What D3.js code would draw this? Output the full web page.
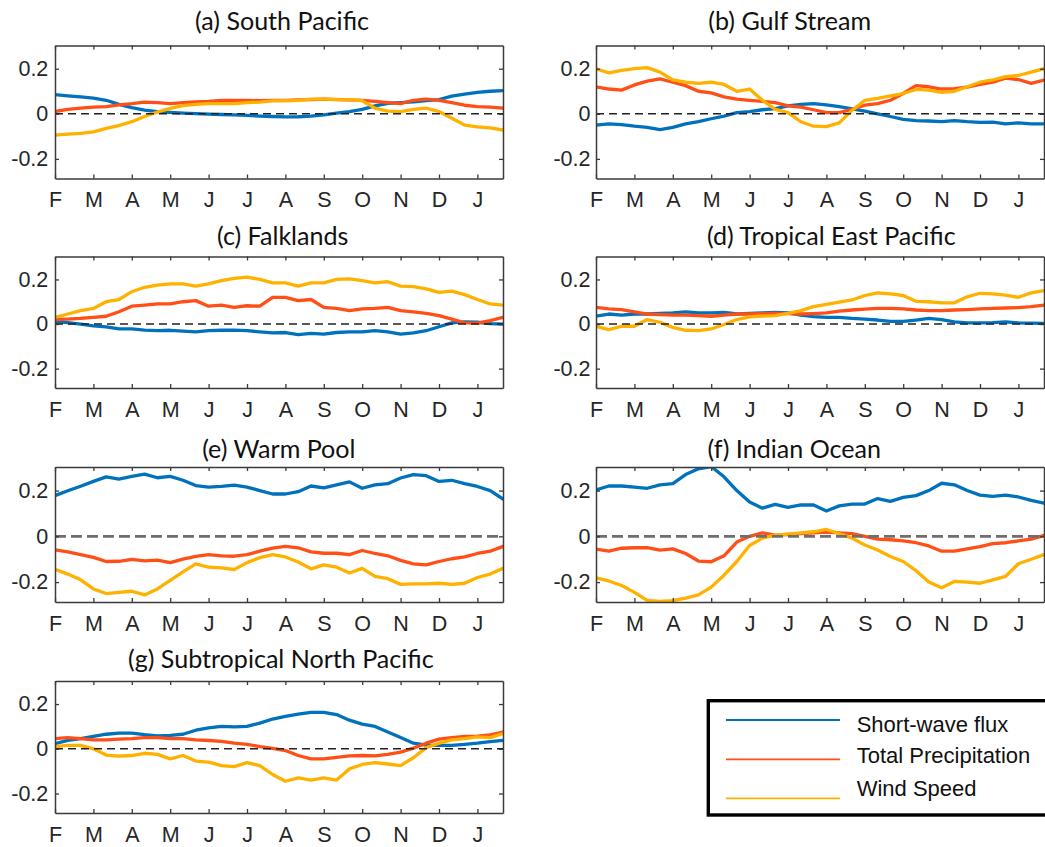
<!DOCTYPE html>
<html>
<head>
<meta charset="utf-8">
<script src="https://cdn.jsdelivr.net/npm/d3@7"></script>
<style>
  body { margin: 0; background: #fff; }
  svg { display: block; }
</style>
</head>
<body>
<svg id="chart" width="1045" height="847"></svg>
<script>
// ---------------- DATA ----------------
const monthLabels = ["F","M","A","M","J","J","A","S","O","N","D","J"];
const yTickValues = [-0.2, 0, 0.2];
const yTickLabels = ["-0.2", "0", "0.2"];
const sampleStep = 1 / 3;   // samples every third of a month, starting at F
const seriesNames = ["Short-wave flux", "Total Precipitation", "Wind Speed"];
const panelTitles = ["(a) South Pacific", "(b) Gulf Stream", "(c) Falklands",
  "(d) Tropical East Pacific", "(e) Warm Pool", "(f) Indian Ocean",
  "(g) Subtropical North Pacific"];

// (a) South Pacific
const swA = [0.085,0.08,0.075,0.07,0.06,0.042,0.027,0.016,0.01,0.006,0.003,0.001,-0.001,-0.003,-0.005,-0.007,-0.01,-0.012,-0.014,-0.013,-0.01,-0.005,0.003,0.01,0.02,0.035,0.046,0.05,0.053,0.058,0.063,0.078,0.087,0.095,0.1,0.103];
const tpA = [0.01,0.02,0.025,0.03,0.032,0.04,0.045,0.052,0.05,0.045,0.05,0.053,0.055,0.06,0.06,0.06,0.058,0.06,0.06,0.062,0.063,0.065,0.063,0.062,0.06,0.055,0.05,0.045,0.06,0.065,0.06,0.05,0.038,0.032,0.03,0.025];
const wsA = [-0.095,-0.09,-0.087,-0.08,-0.065,-0.052,-0.035,-0.012,0.008,0.024,0.036,0.042,0.045,0.045,0.045,0.05,0.052,0.057,0.058,0.06,0.065,0.065,0.064,0.062,0.058,0.025,0.012,0.01,0.02,0.025,0.01,-0.02,-0.05,-0.058,-0.062,-0.072];
// (b) Gulf Stream
const swB = [-0.05,-0.045,-0.048,-0.055,-0.06,-0.07,-0.06,-0.045,-0.035,-0.022,-0.01,0.005,0.01,0.018,0.023,0.035,0.042,0.045,0.04,0.032,0.022,0.012,0.0,-0.012,-0.025,-0.03,-0.032,-0.035,-0.03,-0.035,-0.038,-0.037,-0.045,-0.04,-0.045,-0.045];
const tpB = [0.12,0.11,0.105,0.128,0.145,0.155,0.14,0.125,0.1,0.093,0.075,0.065,0.06,0.055,0.05,0.035,0.03,0.018,0.005,0.005,0.02,0.038,0.045,0.06,0.09,0.125,0.12,0.11,0.112,0.118,0.13,0.14,0.158,0.152,0.135,0.15];
const wsB = [0.2,0.182,0.193,0.2,0.205,0.185,0.15,0.14,0.135,0.14,0.13,0.1,0.11,0.06,0.02,0.005,-0.035,-0.055,-0.057,-0.04,0.015,0.06,0.068,0.08,0.09,0.108,0.105,0.095,0.1,0.12,0.14,0.15,0.165,0.17,0.185,0.2];
// (c) Falklands
const swC = [0.01,0.006,0.0,-0.008,-0.013,-0.022,-0.022,-0.027,-0.03,-0.028,-0.032,-0.035,-0.03,-0.028,-0.027,-0.03,-0.035,-0.04,-0.038,-0.048,-0.042,-0.045,-0.038,-0.035,-0.035,-0.03,-0.035,-0.045,-0.04,-0.03,-0.012,0.005,0.01,0.008,0.002,0.0];
const tpC = [0.02,0.022,0.025,0.03,0.035,0.055,0.08,0.085,0.09,0.09,0.1,0.105,0.08,0.085,0.075,0.082,0.08,0.12,0.12,0.105,0.11,0.075,0.07,0.06,0.068,0.07,0.075,0.06,0.055,0.048,0.038,0.022,0.005,0.004,0.015,0.03];
const wsC = [0.03,0.045,0.06,0.07,0.1,0.11,0.145,0.165,0.175,0.18,0.18,0.17,0.18,0.195,0.205,0.21,0.2,0.185,0.185,0.17,0.185,0.185,0.2,0.203,0.195,0.185,0.19,0.17,0.168,0.158,0.142,0.148,0.132,0.11,0.09,0.085];
// (d) Tropical East Pacific
const swD = [0.035,0.045,0.04,0.045,0.045,0.048,0.05,0.055,0.05,0.05,0.052,0.045,0.048,0.05,0.052,0.05,0.04,0.033,0.03,0.03,0.025,0.022,0.018,0.012,0.012,0.018,0.025,0.02,0.01,0.005,0.005,0.006,0.01,0.005,0.004,0.003];
const tpD = [0.075,0.068,0.065,0.055,0.045,0.042,0.04,0.04,0.038,0.035,0.04,0.045,0.045,0.047,0.048,0.047,0.045,0.047,0.05,0.058,0.063,0.067,0.07,0.07,0.068,0.063,0.06,0.06,0.063,0.065,0.068,0.07,0.072,0.074,0.078,0.085];
const wsD = [-0.01,-0.025,-0.01,-0.01,0.02,0.008,-0.015,-0.028,-0.03,-0.022,-0.002,0.02,0.032,0.036,0.038,0.048,0.06,0.078,0.088,0.098,0.108,0.128,0.14,0.135,0.128,0.102,0.1,0.095,0.095,0.122,0.138,0.135,0.13,0.12,0.14,0.15];
// (e) Warm Pool
const swE = [0.178,0.199,0.219,0.24,0.26,0.25,0.262,0.272,0.256,0.262,0.245,0.222,0.215,0.218,0.224,0.215,0.2,0.185,0.185,0.195,0.22,0.212,0.225,0.238,0.21,0.225,0.23,0.255,0.27,0.265,0.24,0.245,0.23,0.218,0.2,0.163];
const tpE = [-0.059,-0.068,-0.08,-0.092,-0.11,-0.109,-0.101,-0.107,-0.104,-0.115,-0.1,-0.088,-0.08,-0.085,-0.087,-0.08,-0.065,-0.052,-0.044,-0.05,-0.068,-0.074,-0.074,-0.08,-0.062,-0.075,-0.085,-0.105,-0.12,-0.125,-0.11,-0.098,-0.09,-0.075,-0.065,-0.044];
const wsE = [-0.144,-0.165,-0.19,-0.23,-0.25,-0.245,-0.24,-0.256,-0.23,-0.193,-0.155,-0.12,-0.135,-0.138,-0.145,-0.115,-0.093,-0.08,-0.09,-0.112,-0.142,-0.125,-0.135,-0.16,-0.14,-0.175,-0.185,-0.21,-0.208,-0.208,-0.205,-0.21,-0.205,-0.18,-0.165,-0.14];
// (f) Indian Ocean
const swF = [0.203,0.22,0.22,0.215,0.21,0.225,0.23,0.27,0.295,0.305,0.26,0.2,0.15,0.123,0.14,0.127,0.137,0.137,0.111,0.133,0.141,0.141,0.165,0.153,0.17,0.178,0.2,0.232,0.225,0.2,0.18,0.175,0.18,0.172,0.157,0.145];
const tpF = [-0.056,-0.065,-0.052,-0.05,-0.049,-0.06,-0.055,-0.075,-0.108,-0.111,-0.085,-0.025,0.0,0.015,0.005,0.008,0.012,0.015,0.019,0.015,0.012,0.0,-0.012,-0.015,-0.02,-0.028,-0.042,-0.065,-0.065,-0.055,-0.045,-0.032,-0.028,-0.02,-0.012,0.004];
const wsF = [-0.181,-0.195,-0.215,-0.245,-0.28,-0.284,-0.281,-0.27,-0.256,-0.222,-0.17,-0.11,-0.04,-0.008,0.005,0.01,0.015,0.02,0.03,0.012,-0.008,-0.038,-0.06,-0.088,-0.11,-0.15,-0.2,-0.225,-0.197,-0.2,-0.205,-0.19,-0.175,-0.12,-0.1,-0.08];
// (g) Subtropical North Pacific
const swG = [0.023,0.038,0.045,0.055,0.065,0.07,0.07,0.063,0.058,0.06,0.065,0.083,0.093,0.1,0.098,0.1,0.115,0.133,0.145,0.155,0.163,0.163,0.153,0.128,0.11,0.1,0.075,0.05,0.025,0.016,0.015,0.015,0.02,0.025,0.032,0.038];
const tpG = [0.045,0.05,0.045,0.04,0.04,0.043,0.045,0.05,0.05,0.045,0.045,0.04,0.037,0.033,0.025,0.02,0.01,0.002,-0.008,-0.03,-0.045,-0.045,-0.038,-0.032,-0.03,-0.032,-0.025,-0.015,0.003,0.025,0.043,0.05,0.055,0.057,0.062,0.075];
const wsG = [0.01,0.015,0.015,0.0,-0.028,-0.033,-0.03,-0.02,-0.025,-0.045,-0.03,-0.055,-0.06,-0.075,-0.08,-0.062,-0.075,-0.115,-0.145,-0.13,-0.14,-0.13,-0.14,-0.09,-0.07,-0.062,-0.068,-0.075,-0.04,0.005,0.025,0.04,0.045,0.053,0.05,0.068];

const panelSeries = [
  [swA, tpA, wsA], [swB, tpB, wsB], [swC, tpC, wsC], [swD, tpD, wsD],
  [swE, tpE, wsE], [swF, tpF, wsF], [swG, tpG, wsG]
];

// ---------------- STYLE / LAYOUT ----------------
const colors = ["#0072BD", "#FF4F17", "#FFB100"];
const colX = [55, 596];
const plotW = 448;
const rowTop = [45.5, 256.5, 467, 681];
const rowH = [133, 131.5, 135, 132];
const yDomain = [-0.287, 0.303];
const titleCx = [282, 789.7, 282.7, 831.3, 278.8, 794.3, 280.8];
const titleBase = [30, 245.3, 458, 668.3];
const zeroStyle = [
  {c:"#222", w:1.6, d:"8,5"}, {c:"#222", w:1.6, d:"8,5"},
  {c:"#222", w:1.6, d:"8,5"}, {c:"#222", w:1.6, d:"8,5"},
  {c:"#6e6e6e", w:2.6, d:"11,5"}, {c:"#6e6e6e", w:2.6, d:"11,5"},
  {c:"#222", w:1.6, d:"8,5"}
];
const axisColor = "#3a3a3a";
const tickFont = "'Liberation Sans', Arial, sans-serif";
const tickSize = 21.5;

const svg = d3.select("#chart");

// fit title font (Calibri-like -> Lato) to the reference width of title (a)
const probe = svg.append("text").attr("font-family", "Lato, 'Open Sans', sans-serif")
  .attr("font-size", 100).text(panelTitles[0]);
const probeW = probe.node().getComputedTextLength();
probe.remove();
const titleSize = 100 * 174 / probeW;

const nPts = panelSeries[0][0].length;
const xMax = (nPts - 1) * sampleStep;

panelSeries.forEach((series, i) => {
  const col = i % 2, row = Math.floor(i / 2);
  const left = colX[col], top = rowTop[row], h = rowH[row];
  const x = d3.scaleLinear().domain([0, xMax]).range([left, left + plotW]);
  const y = d3.scaleLinear().domain(yDomain).range([top + h, top]);
  const g = svg.append("g");

  const clipId = "clip" + i;
  svg.append("clipPath").attr("id", clipId).append("rect")
    .attr("x", left).attr("y", top).attr("width", plotW).attr("height", h);

  const plot = g.append("g").attr("clip-path", `url(#${clipId})`);
  const line = d3.line().x((d, k) => x(k * sampleStep)).y(d => y(d));
  series.forEach((vals, s) => {
    plot.append("path").datum(vals)
      .attr("d", line)
      .attr("fill", "none")
      .attr("stroke", colors[s])
      .attr("stroke-width", 3.3)
      .attr("stroke-linejoin", "round")
      .attr("stroke-linecap", "round");
  });
  // zero dashed line
  const zs = zeroStyle[i];
  plot.append("line")
    .attr("x1", x(0)).attr("x2", x(xMax))
    .attr("y1", y(0)).attr("y2", y(0))
    .attr("stroke", zs.c).attr("stroke-width", zs.w)
    .attr("stroke-dasharray", zs.d);

  const monthTicks = d3.range(monthLabels.length);
  const fmtMonth = (d) => monthLabels[d];

  const ax = (axis, tx, ty, labels) => {
    const a = g.append("g").attr("transform", `translate(${tx},${ty})`).call(axis);
    a.select(".domain").attr("stroke", axisColor).attr("stroke-width", 1.5);
    a.selectAll(".tick line").attr("stroke", axisColor).attr("stroke-width", 1.3);
    a.selectAll("text").attr("fill", "#262626")
      .attr("font-family", tickFont).attr("font-size", tickSize);
    if (!labels) a.selectAll("text").remove();
    return a;
  };
  ax(d3.axisBottom(x).tickValues(monthTicks).tickFormat(fmtMonth)
      .tickSize(-4).tickSizeOuter(0).tickPadding(13.5), 0, top + h, true);
  ax(d3.axisTop(x).tickValues(monthTicks).tickFormat("")
      .tickSize(-4).tickSizeOuter(0), 0, top, false);
  ax(d3.axisLeft(y).tickValues(yTickValues).tickFormat((d, k) => yTickLabels[k])
      .tickSize(-4).tickSizeOuter(0).tickPadding(col === 0 ? 6.7 : 5.5), left, 0, true);
  ax(d3.axisRight(y).tickValues(yTickValues).tickFormat("")
      .tickSize(-4).tickSizeOuter(0), left + plotW, 0, false);

  // title
  svg.append("text")
    .attr("x", titleCx[i]).attr("y", titleBase[row])
    .attr("text-anchor", "middle")
    .attr("font-family", "Lato, 'Open Sans', sans-serif")
    .attr("font-size", titleSize)
    .attr("fill", "#111")
    .text(panelTitles[i]);
});

// ---------------- LEGEND ----------------
const legBox = {x: 708.3, y: 700.7, w: 420, h: 114.3};
const legLineY = [720, 759.3, 798.3];
const legTextY = [731.7, 763.3, 796];
const leg = svg.append("g");
leg.append("rect")
  .attr("x", legBox.x).attr("y", legBox.y)
  .attr("width", legBox.w).attr("height", legBox.h)
  .attr("fill", "#fff").attr("stroke", "#000").attr("stroke-width", 3.4);
seriesNames.forEach((name, s) => {
  leg.append("line")
    .attr("x1", 726).attr("x2", 840)
    .attr("y1", legLineY[s]).attr("y2", legLineY[s])
    .attr("stroke", colors[s]).attr("stroke-width", 1.8);
  leg.append("text")
    .attr("x", 856.7).attr("y", legTextY[s])
    .attr("font-family", tickFont).attr("font-size", 22)
    .attr("fill", "#111")
    .text(name);
});
</script>
</body>
</html>
